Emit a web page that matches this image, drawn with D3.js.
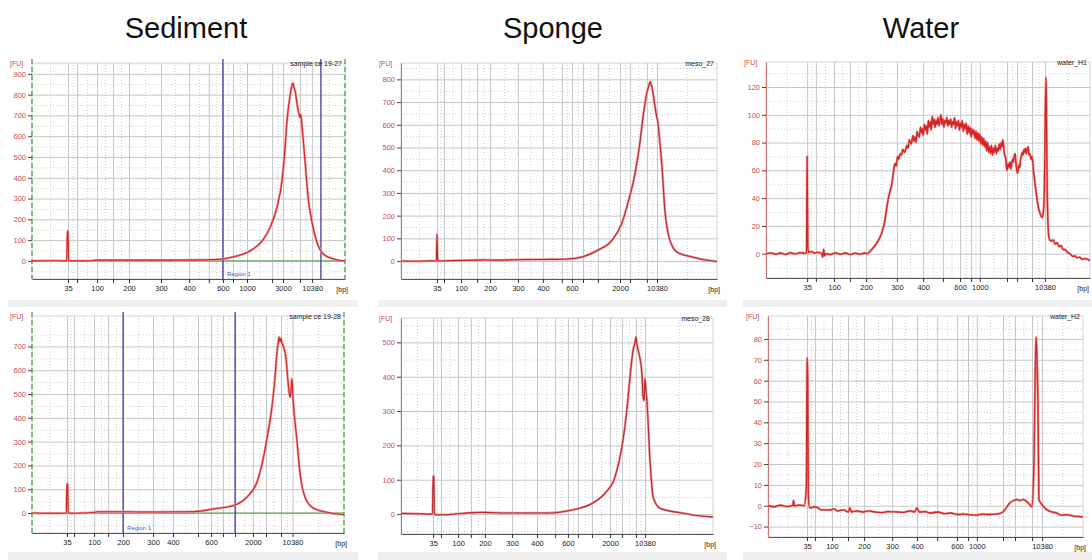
<!DOCTYPE html>
<html>
<head>
<meta charset="utf-8">
<script src="https://d3js.org/d3.v7.min.js"></script>
<style>
  body { margin: 0; background: #fff; }
  svg { display: block; font-family: "Liberation Sans", Arial, sans-serif; }
  .grid .domain, .minor .domain { display: none; }
  .grid line { stroke: #c6c6c6; }
  .minor line { stroke: #cfcfcf; stroke-dasharray: 1,2; }
</style>
</head>
<body>
<div id="chart"></div>
<script>
(function () {
  'use strict';

  var groups = ['Sediment', 'Sponge', 'Water'];
  var sampleNames = ['sample ce 19-27', 'meso_27', 'water_H1', 'sample ce 19-28', 'meso_28', 'water_H2'];
  var ladderBp = [35, 50, 100, 150, 200, 300, 400, 500, 600, 700, 1000, 2000, 3000, 7000, 10380];

  // relative migration (% of run window) of each ladder band, per sample
  var ladderSed27 = [11.5, 14.4, 20.8, 25.9, 31.0, 41.2, 50.2, 56.5, 61.0, 64.2, 68.7, 76.7, 80.2, 85.6, 89.5];
  var ladderMeso27 = [11.4, 13.6, 19.0, 24.1, 28.2, 37.0, 44.9, 50.9, 54.1, 57.6, 62.3, 69.3, 72.5, 77.8, 81.0];
  var ladderH1 = [12.7, 15.4, 21.0, 25.9, 30.9, 40.4, 48.5, 54.6, 59.9, 63.3, 66.0, 74.4, 77.5, 82.1, 86.1];
  var ladderSed28 = [11.2, 13.5, 19.9, 24.4, 29.2, 38.8, 45.2, 53.2, 57.4, 61.2, 65.1, 70.8, 75.0, 79.8, 83.5];
  var ladderMeso28 = [10.3, 12.8, 18.3, 22.4, 26.9, 35.6, 43.6, 49.4, 53.5, 56.7, 61.2, 67.0, 70.8, 75.3, 78.2];
  var ladderH2 = [12.4, 14.9, 20.3, 25.4, 30.5, 39.4, 47.3, 53.7, 60.0, 63.5, 66.3, 74.6, 78.4, 83.8, 87.0];

  var bpLabelsSed27 = [35, 100, 200, 300, 400, 600, 1000, 3000, 10380];
  var bpLabelsSed28 = [35, 100, 200, 300, 400, 600, 2000, 10380];
  var bpLabelsMeso = [35, 100, 200, 300, 400, 600, 2000, 10380];
  var bpLabelsWater = [35, 100, 200, 300, 400, 600, 1000, 10380];

  var fuTicksSed27 = [0, 100, 200, 300, 400, 500, 600, 700, 800, 900];
  var fuTicksMeso27 = [0, 100, 200, 300, 400, 500, 600, 700, 800];
  var fuTicksH1 = [0, 20, 40, 60, 80, 100, 120];
  var fuTicksSed28 = [0, 100, 200, 300, 400, 500, 600, 700];
  var fuTicksMeso28 = [0, 100, 200, 300, 400, 500];
  var fuTicksH2 = [-10, 0, 10, 20, 30, 40, 50, 60, 70, 80];

  var fuExtentSed27 = [-87, 952];
  var fuExtentMeso27 = [-79, 872];
  var fuExtentH1 = [-17.5, 138];
  var fuExtentSed28 = [-84, 828];
  var fuExtentMeso28 = [-58, 571];
  var fuExtentH2 = [-15, 91];

  var regionSed27 = [61.0, 92.3];
  var regionSed28 = [29.2, 65.1];

  // traces: [migration %, FU]
  var traceSed27 = [[0,0],[5,1],[10,0],[11.1,0],[11.3,145],[11.5,140],[11.7,5],[12,0],[16,0],[19.5,1],[20.5,4],[25,4],[35,4],[45,4],[55,5],[57.8,6],[61,9],[64.2,19],[69.6,48],[73.8,101],[76,159],[78.3,260],[79.9,389],[80.8,534],[81.5,678],[82.4,790],[83,840],[83.4,856],[83.7,835],[84,822],[85,726],[85.4,700],[85.6,690],[85.8,705],[86,690],[86.3,644],[87.2,486],[88.2,308],[89.5,183],[91.1,87],[93,34],[96.2,10],[99.4,0],[100,0]];
  var traceMeso27 = [[0,0],[5,-1],[10,1],[11.2,0],[11.4,120],[11.6,8],[11.9,0],[16,2],[20,3],[25.6,5],[30,4],[36.1,6],[45,7],[51.9,8],[57.3,18],[62.3,48],[66.8,92],[69.9,167],[71.8,255],[74.1,388],[75.6,520],[76.6,636],[77.8,740],[78.5,775],[78.8,790],[79.1,780],[79.4,767],[80.4,678],[81,630],[81.2,620],[81.3,608],[82.6,414],[83.5,225],[85.1,92],[87.3,40],[92.1,18],[98.7,0],[100,-2]];
  var traceH1 = [[0,0],[1.5,0.6],[3,-0.4],[4.5,0.5],[6,-0.6],[7.5,0.7],[9,-0.2],[10.5,0.8],[12,0.2],[12.5,1],[12.7,70],[12.9,5],[13.2,1],[14,1.5],[15,0.5],[16,1],[17.2,0],[17.5,-2.5],[17.8,3],[18.1,-1.5],[18.5,0],[20,-0.5],[21.5,0.6],[23,-0.4],[24.5,0.5],[26,-0.6],[27.5,0.4],[29,-0.3],[30.5,0.5],[31.2,0],[32.2,2],[33,4],[34,7],[35.2,12],[36,17],[36.7,24],[37.2,32],[37.7,39],[38.3,45],[38.9,51],[39.4,60],[39.8,65],[40.2,63],[40.6,70],[41,68],[41.4,72],[41.8,71],[42.2,75],[42.8,73],[43.5,78],[43.9,76],[44.2,82],[44.8,79],[45.4,85],[45.7,81],[46,84],[46.3,80],[46.6,88],[47,85],[47.3,84],[47.7,91],[48,87],[48.3,90],[48.5,85],[48.9,93],[49.2,89],[49.5,92],[49.8,86],[50.1,96],[50.4,91],[50.7,95],[51,89],[51.3,99],[51.6,93],[51.9,97],[52.2,91],[52.5,96],[52.8,93],[53.1,98],[53.4,92],[53.7,96],[54,100],[54.3,93],[54.6,97],[54.9,91],[55.2,96],[55.5,94],[55.8,98],[56.1,92],[56.4,96],[56.7,93],[57,97],[57.3,91],[57.6,95],[57.9,93],[58.2,98],[58.5,90],[58.8,95],[59.1,92],[59.4,96],[59.7,89],[60,94],[60.3,91],[60.6,96],[60.9,88],[61.2,93],[61.5,90],[61.8,94],[62.1,86],[62.4,92],[62.7,87],[63,91],[63.3,84],[63.6,90],[63.9,86],[64.2,89],[64.5,83],[64.8,88],[65.1,82],[65.4,87],[65.7,81],[66,86],[66.3,79],[66.6,84],[66.9,78],[67.2,83],[67.5,77],[67.8,81],[68.1,74],[68.4,80],[68.7,73],[69,77],[69.3,72],[69.6,78],[69.9,71],[70.2,76],[70.5,73],[70.8,78],[71.1,72],[71.4,76],[71.7,74],[72,79],[72.3,75],[72.6,80],[72.9,77],[73.1,82],[73.4,76],[73.6,72],[74,68],[74.2,63],[74.4,60],[74.7,65],[75,62],[75.3,66],[75.6,61],[75.8,64],[76.1,68],[76.3,66],[76.6,70],[76.9,72],[77.1,66],[77.3,62],[77.6,58],[77.8,60],[78.1,64],[78.3,62],[78.6,68],[78.8,70],[79.1,73],[79.3,71],[79.6,75],[79.8,73],[80.1,76],[80.3,72],[80.6,75],[80.9,77],[81.2,71],[81.4,72],[81.8,68],[82.1,70],[82.4,64],[82.6,58],[82.8,55],[83,51],[83.5,42],[84,34],[84.6,29],[85.2,26],[85.6,30],[85.9,45],[86.1,80],[86.4,127],[86.6,90],[86.8,45],[87.1,18],[87.3,12],[88,9],[88.6,10],[89.2,7],[89.9,8],[90.5,5],[91.1,6],[91.7,3],[92.3,3],[93,1],[93.8,0],[94.8,-2],[95.4,-1.5],[96,-3],[96.8,-2.5],[97.5,-4],[98.5,-3.5],[100,-5]];
  var traceSed28 = [[0,0],[6,-1],[11,0],[11.2,125],[11.4,120],[11.6,2],[12,-1],[16,0],[19.6,2],[21,5],[30,5],[40,4],[50,5],[53.8,8],[58,17],[65.1,34],[68.9,67],[72.1,130],[74,222],[75.6,336],[76.9,445],[77.9,571],[78.5,672],[79,725],[79.2,740],[79.5,720],[79.8,735],[80.1,715],[80.4,706],[81.4,651],[82.1,546],[82.5,500],[82.7,487],[83,510],[83.3,565],[83.5,520],[83.7,475],[84.9,307],[85.9,168],[87.5,67],[90.1,21],[94.6,3],[99.7,-6],[100,-6]];
  var traceMeso28 = [[0,2],[5,1],[10.1,0],[10.3,112],[10.5,108],[10.7,2],[11,-2],[14,-2],[18,1],[26,5],[35,3],[47.1,3],[54.8,12],[61.2,31],[65.4,61],[68.6,108],[70.8,195],[72.4,303],[73.4,399],[74.4,478],[75,500],[75.3,516],[75.6,495],[76,478],[77.2,411],[77.6,341],[77.9,330],[78.2,395],[78.5,360],[78.8,332],[79.8,157],[80.8,50],[83,17],[90.1,3],[99.7,-8],[100,-8]];
  var traceH2 = [[0,0],[2,-0.5],[4,0.3],[6,-0.4],[7.9,0.2],[8.1,2.5],[8.4,0],[10,0.3],[11.5,0],[12.2,10],[12.4,71],[12.6,62],[12.8,5],[13.2,-1],[15,-0.5],[17,-2],[19.7,-2],[21,-1.5],[22,-2.5],[24,-2],[25.5,-3],[26,-1],[26.5,-3],[28,-2.5],[30.2,-3],[32,-2.5],[34,-3],[36,-3.3],[38,-2.8],[41,-3],[43,-3.2],[45,-2.5],[46.5,-3],[47.3,-1],[48,-3],[50,-2.8],[51.4,-3.5],[54,-3],[56,-3.8],[58,-3.5],[60,-4.2],[61.9,-4],[64,-4.3],[66,-4.5],[68,-4],[70,-4.2],[72.7,-4],[74.6,-3],[76.8,1.4],[78,2.5],[79,3],[80,2.5],[81,3],[82.5,1.5],[83.8,-0.5],[84.4,19],[85.1,81],[85.5,65],[85.7,50],[86,3],[87,0.5],[88.6,-2],[90,-3],[91.7,-3.5],[93,-4.5],[94.9,-4.3],[97,-5],[99.7,-5.3],[100,-5.5]];

  var panels = [
    {kind: 'sediment', ladder: ladderSed27, labels: bpLabelsSed27, ticks: fuTicksSed27, fu: fuExtentSed27, trace: traceSed27, region: regionSed27},
    {kind: 'sponge', ladder: ladderMeso27, labels: bpLabelsMeso, ticks: fuTicksMeso27, fu: fuExtentMeso27, trace: traceMeso27},
    {kind: 'water', ladder: ladderH1, labels: bpLabelsWater, ticks: fuTicksH1, fu: fuExtentH1, trace: traceH1},
    {kind: 'sediment', ladder: ladderSed28, labels: bpLabelsSed28, ticks: fuTicksSed28, fu: fuExtentSed28, trace: traceSed28, region: regionSed28},
    {kind: 'sponge', ladder: ladderMeso28, labels: bpLabelsMeso, ticks: fuTicksMeso28, fu: fuExtentMeso28, trace: traceMeso28},
    {kind: 'water', ladder: ladderH2, labels: bpLabelsWater, ticks: fuTicksH2, fu: fuExtentH2, trace: traceH2}
  ];

  var boxes = [
    {x0: 32, x1: 345, y0: 63, y1: 279},
    {x0: 401, x1: 717, y0: 63, y1: 279},
    {x0: 766, x1: 1090, y0: 62, y1: 278},
    {x0: 32, x1: 344, y0: 316, y1: 533},
    {x0: 401, x1: 713, y0: 318, y1: 534},
    {x0: 768, x1: 1083, y0: 316, y1: 537}
  ];
  var titleX = [186, 553, 921];
  var frameX = [[8, 358], [378, 727], [743, 1092]];

  var width = 1092, height = 560;
  var svg = d3.select('#chart').append('svg')
    .attr('width', width)
    .attr('height', height);

  // light frame bands of the lower screenshots
  frameX.forEach(function (f) {
    svg.append('rect').attr('x', f[0]).attr('y', 300).attr('width', f[1] - f[0]).attr('height', 7).attr('fill', '#efefef');
    svg.append('rect').attr('x', f[0]).attr('y', 552).attr('width', f[1] - f[0]).attr('height', 8).attr('fill', '#efefef');
  });

  svg.selectAll('.title')
    .data(groups)
    .enter()
    .append('text')
    .attr('class', 'title')
    .attr('x', function (d, i) { return titleX[i]; })
    .attr('y', 38)
    .attr('text-anchor', 'middle')
    .attr('font-size', 29)
    .attr('fill', '#111')
    .text(function (d) { return d; });

  panels.forEach(function (p, i) {
    var b = boxes[i],
      w = b.x1 - b.x0,
      h = b.y1 - b.y0;
    var x = d3.scaleLinear().domain([0, 100]).range([b.x0, b.x1]);
    var y = d3.scaleLinear().domain(p.fu).range([b.y1, b.y0]);
    var g = svg.append('g').attr('class', 'panel');

    g.append('rect')
      .attr('x', b.x0).attr('y', b.y0).attr('width', w).attr('height', h)
      .attr('fill', '#fff').attr('stroke', '#d4d4d4');

    // minor dotted grid
    var step = p.ticks[1] - p.ticks[0];
    var minorY = [];
    for (var v = p.ticks[0] - step / 2; v < p.fu[1]; v += step) {
      if (v > p.fu[0]) { minorY.push(v); }
    }
    var edges = [0].concat(p.ladder, [100]);
    var minorX = d3.pairs(edges).map(function (e) { return (e[0] + e[1]) / 2; });

    g.append('g').attr('class', 'minor')
      .attr('transform', 'translate(' + b.x0 + ',0)')
      .call(d3.axisLeft(y).tickValues(minorY).tickSize(-w).tickFormat(''));
    g.append('g').attr('class', 'minor')
      .attr('transform', 'translate(0,' + b.y1 + ')')
      .call(d3.axisBottom(x).tickValues(minorX).tickSize(-h).tickFormat(''));

    // major grid
    g.append('g').attr('class', 'grid')
      .attr('transform', 'translate(' + b.x0 + ',0)')
      .call(d3.axisLeft(y).tickValues(p.ticks).tickSize(-w).tickFormat(''));
    g.append('g').attr('class', 'grid')
      .attr('transform', 'translate(0,' + b.y1 + ')')
      .call(d3.axisBottom(x).tickValues(p.ladder).tickSize(-h).tickFormat(''));

    // x axis with ladder sizes
    var xAxis = g.append('g')
      .attr('transform', 'translate(0,' + b.y1 + ')')
      .call(d3.axisBottom(x)
        .tickValues(p.ladder)
        .tickSize(4)
        .tickSizeOuter(0)
        .tickPadding(3)
        .tickFormat(function (d, k) {
          return p.labels.indexOf(ladderBp[k]) >= 0 ? ladderBp[k] : '';
        }));
    xAxis.select('.domain').attr('stroke', '#555');
    xAxis.selectAll('line').attr('stroke', '#333');
    xAxis.selectAll('text').attr('font-size', 7.5).attr('fill', '#222').attr('font-family', 'Liberation Sans, Arial, sans-serif');

    // y axis
    var yAxis = g.append('g')
      .attr('transform', 'translate(' + b.x0 + ',0)')
      .call(d3.axisLeft(y)
        .tickValues(p.ticks)
        .tickSize(4)
        .tickSizeOuter(0)
        .tickPadding(2));
    yAxis.select('.domain').attr('stroke', p.kind === 'water' ? '#d27070' : (p.kind === 'sediment' ? 'none' : '#888'));
    yAxis.selectAll('line').attr('stroke', '#444');
    yAxis.selectAll('text').attr('font-size', 7.5).attr('fill', '#c0504d').attr('font-family', 'Liberation Sans, Arial, sans-serif');

    var clipId = 'clip' + i;
    g.append('clipPath').attr('id', clipId)
      .append('rect').attr('x', b.x0).attr('y', b.y0).attr('width', w).attr('height', h);

    if (p.kind === 'sediment') {
      g.append('line')
        .attr('x1', b.x0).attr('x2', b.x1).attr('y1', y(0)).attr('y2', y(0))
        .attr('stroke', '#3d9a3d').attr('stroke-width', 1);
      [b.x0, b.x1].forEach(function (xx) {
        g.append('line')
          .attr('x1', xx).attr('x2', xx).attr('y1', b.y0 - 4).attr('y2', b.y1)
          .attr('stroke', '#3d9a3d').attr('stroke-width', 1.2)
          .attr('stroke-dasharray', '5,3');
      });
      g.selectAll('.region')
        .data(p.region)
        .enter()
        .append('line')
        .attr('x1', function (d) { return x(d); })
        .attr('x2', function (d) { return x(d); })
        .attr('y1', b.y0 - 4)
        .attr('y2', b.y1)
        .attr('stroke', '#3b3f9e')
        .attr('stroke-width', 1.3);
      g.append('text')
        .attr('x', x(p.region[0]) + 4)
        .attr('y', b.y1 - 3)
        .attr('font-size', 6)
        .attr('fill', '#4a55c0')
        .text('Region 1');
    }

    var line = d3.line()
      .curve(d3.curveMonotoneX)
      .x(function (d) { return x(d[0]); })
      .y(function (d) { return y(d[1]); });

    g.append('path')
      .datum(p.trace)
      .attr('clip-path', 'url(#' + clipId + ')')
      .attr('d', line)
      .attr('fill', 'none')
      .attr('stroke', '#ee9a9a')
      .attr('stroke-width', 2.4)
      .attr('stroke-linejoin', 'round');
    g.append('path')
      .datum(p.trace)
      .attr('clip-path', 'url(#' + clipId + ')')
      .attr('d', line)
      .attr('fill', 'none')
      .attr('stroke', p.kind === 'sponge' ? '#b8282c' : '#d42424')
      .attr('stroke-width', p.kind === 'water' ? 1.3 : 1.1)
      .attr('stroke-linejoin', 'round');

    g.append('text')
      .attr('x', b.x0 - 22).attr('y', b.y0 + 3)
      .attr('font-size', 7).attr('fill', '#c0504d')
      .text('[FU]');
    g.append('text')
      .attr('x', b.x1 - 3).attr('y', b.y0 + 3)
      .attr('text-anchor', 'end')
      .attr('font-size', 7).attr('fill', '#222')
      .text(sampleNames[i]);
    g.append('text')
      .attr('x', Math.min(b.x1 + 3, 1089)).attr('y', b.y1 + 13)
      .attr('text-anchor', 'end')
      .attr('font-size', 7).attr('fill', '#222')
      .text('[bp]');
  });
}());
</script>
</body>
</html>
